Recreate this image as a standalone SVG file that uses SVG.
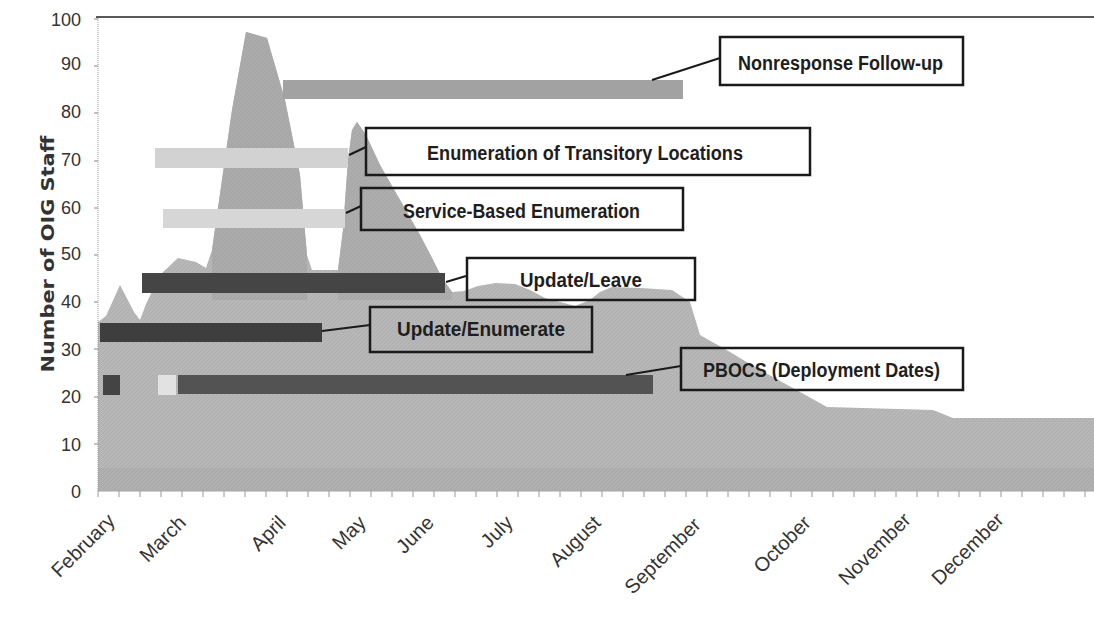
<svg xmlns="http://www.w3.org/2000/svg" xmlns:xlink="http://www.w3.org/1999/xlink" width="1094" height="622" viewBox="0 0 1094 622">
<style>
.tick{font-family:"Liberation Sans",Arial,sans-serif;font-size:18px;fill:#333;text-anchor:end}
.month{font-family:"Liberation Sans",Arial,sans-serif;font-size:20px;fill:#333;text-anchor:end}
.title{font-family:"DejaVu Sans",sans-serif;font-weight:bold;font-size:18px;fill:#333;text-anchor:middle}
.lbl{font-family:"Liberation Sans",Arial,sans-serif;font-weight:bold;font-size:20px;fill:#1e1e1e}
.box{fill:none;stroke:#1a1a1a;stroke-width:2.5}
.lead{stroke:#1a1a1a;stroke-width:2;fill:none}
.grid{stroke:#888;stroke-width:1}
</style>
<defs>
<pattern id="hatch" width="4" height="4" patternUnits="userSpaceOnUse">
<path d="M0,4 L4,0" stroke="#8c8c8c" stroke-width="0.6" opacity="0.35"/>
</pattern>
<polygon id="areaShape" points="98,491 98,322 106,316 120,285 134,312 140,320 146,304 160,275 178,258 196,262 206,268 212,250 222,180 232,110 246,32 267,38 285,100 300,175 307,255 312,270 338,270 343,230 348,160 352,130 357,122 366,135 380,165 400,200 420,235 432,258 442,278 452,292 464,291 478,286 496,283 515,284 530,290 545,298 575,306 590,300 600,292 612,287 640,288 672,290 690,302 700,335 730,352 760,370 800,392 827,407 933,410 953,418 1094,418 1094,491"/>
</defs>
<rect width="1094" height="622" fill="#fff"/>

<g id="plot-area">
<use xlink:href="#areaShape" fill="#b7b7b7"/>
<polygon points="212,250 222,180 232,110 246,32 267,38 285,100 300,175 307,255 307,300 212,300" fill="#ababab"/>
<polygon points="338,270 343,230 348,160 352,130 357,122 366,135 380,165 400,200 420,235 432,258 442,278 452,292 452,300 338,300" fill="#adadad"/>
<rect x="98" y="468" width="996" height="23" fill="#b0b0b0"/>
<use xlink:href="#areaShape" fill="url(#hatch)"/>
</g>

<g id="axes">
<line x1="96" y1="17" x2="1094" y2="17" stroke="#222" stroke-width="1.6"/>
<line x1="98" y1="18" x2="98" y2="491" stroke="#999" stroke-width="1" stroke-dasharray="1,1"/>
<line x1="98" y1="491" x2="1094" y2="491" stroke="#a5a5a5" stroke-width="1.2"/>
<g class="grid">
<line x1="94" y1="19" x2="98" y2="19"/><line x1="94" y1="66" x2="98" y2="66"/><line x1="94" y1="113" x2="98" y2="113"/><line x1="94" y1="161" x2="98" y2="161"/><line x1="94" y1="208" x2="98" y2="208"/><line x1="94" y1="255" x2="98" y2="255"/><line x1="94" y1="302" x2="98" y2="302"/><line x1="94" y1="349" x2="98" y2="349"/><line x1="94" y1="397" x2="98" y2="397"/><line x1="94" y1="444" x2="98" y2="444"/>
</g>
<path d="M98,491v6M119,491v6M140,491v6M161,491v6M182,491v6M203,491v6M224,491v6M245,491v6M266,491v6M287,491v6M308,491v6M329,491v6M350,491v6M371,491v6M392,491v6M413,491v6M434,491v6M455,491v6M476,491v6M497,491v6M518,491v6M539,491v6M560,491v6M581,491v6M602,491v6M623,491v6M644,491v6M665,491v6M686,491v6M707,491v6M728,491v6M749,491v6M770,491v6M791,491v6M812,491v6M833,491v6M854,491v6M875,491v6M896,491v6M917,491v6M938,491v6M959,491v6M980,491v6M1001,491v6M1022,491v6M1043,491v6M1064,491v6M1085,491v6" stroke="#999" stroke-width="1"/>
<text class="tick" x="81" y="26">100</text>
<text class="tick" x="81" y="70">90</text>
<text class="tick" x="81" y="118">80</text>
<text class="tick" x="81" y="166">70</text>
<text class="tick" x="81" y="214">60</text>
<text class="tick" x="81" y="260">50</text>
<text class="tick" x="81" y="308">40</text>
<text class="tick" x="81" y="356">30</text>
<text class="tick" x="81" y="403">20</text>
<text class="tick" x="81" y="451">10</text>
<text class="tick" x="81" y="498">0</text>
<text class="title" transform="translate(54,254) rotate(-90)" textLength="237" lengthAdjust="spacingAndGlyphs">Number of OIG Staff</text>
<text class="month" transform="translate(116,522) rotate(-45)">February</text>
<text class="month" transform="translate(187,524) rotate(-45)">March</text>
<text class="month" transform="translate(287,524) rotate(-45)">April</text>
<text class="month" transform="translate(367,524) rotate(-45)">May</text>
<text class="month" transform="translate(435,524) rotate(-45)">June</text>
<text class="month" transform="translate(514,524) rotate(-45)">July</text>
<text class="month" transform="translate(602,524) rotate(-45)">August</text>
<text class="month" transform="translate(702,526) rotate(-45)">September</text>
<text class="month" transform="translate(812,524) rotate(-45)">October</text>
<text class="month" transform="translate(912,521) rotate(-45)">November</text>
<text class="month" transform="translate(1005,521) rotate(-45)">December</text>
</g>

<g id="bars">
<rect x="283" y="80" width="400" height="19" fill="#a2a2a2"/>
<rect x="155" y="148" width="193" height="20" fill="#d2d2d2"/>
<rect x="163" y="209" width="182" height="19" fill="#d6d6d6"/>
<rect x="142" y="273" width="303" height="20" fill="#454545"/>
<rect x="100" y="323" width="222" height="19" fill="#3e3e3e"/>
<rect x="103" y="375" width="17" height="20" fill="#444"/>
<rect x="158" y="375" width="18" height="20" fill="#e2e2e2"/>
<rect x="178" y="375" width="475" height="19" fill="#535353"/>
</g>

<g id="connectors">
<line class="lead" x1="652" y1="80" x2="720" y2="58"/>
<line class="lead" x1="349" y1="155" x2="366" y2="147"/>
<line class="lead" x1="346" y1="213" x2="361" y2="206"/>
<line class="lead" x1="446" y1="282" x2="466" y2="276"/>
<line class="lead" x1="322" y1="331" x2="370" y2="325"/>
<line class="lead" x1="626" y1="375" x2="681" y2="366"/>
</g>

<g id="nrfu">
<rect class="box" x="720" y="37" width="243" height="48"/>
<text class="lbl" x="738" y="70" textLength="205" lengthAdjust="spacingAndGlyphs">Nonresponse Follow-up</text>
</g>
<g id="etl">
<rect class="box" x="366" y="128" width="444" height="47"/>
<text class="lbl" x="427" y="160" textLength="316" lengthAdjust="spacingAndGlyphs">Enumeration of Transitory Locations</text>
</g>
<g id="sbe">
<rect class="box" x="361" y="188" width="322" height="42"/>
<text class="lbl" x="403" y="218" textLength="237" lengthAdjust="spacingAndGlyphs">Service-Based Enumeration</text>
</g>
<g id="update-leave">
<rect class="box" x="467" y="258" width="228" height="42"/>
<text class="lbl" x="520" y="287" textLength="122" lengthAdjust="spacingAndGlyphs">Update/Leave</text>
</g>
<g id="update-enumerate">
<rect class="box" x="370" y="307" width="222" height="45"/>
<text class="lbl" x="397" y="336" textLength="168" lengthAdjust="spacingAndGlyphs">Update/Enumerate</text>
</g>
<g id="pbocs">
<rect class="box" x="681" y="348" width="282" height="42"/>
<text class="lbl" x="703" y="377" textLength="237" lengthAdjust="spacingAndGlyphs">PBOCS (Deployment Dates)</text>
</g>
</svg>
